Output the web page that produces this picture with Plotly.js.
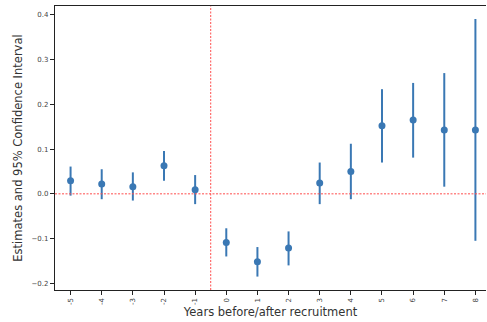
<!DOCTYPE html>
<html>
<head>
<meta charset="utf-8">
<script src="https://cdn.plot.ly/plotly-3.0.1.min.js"></script>
<style>html,body{margin:0;padding:0;background:#fff;}#chart{width:487px;height:322px;}</style>
</head>
<body>
<div id="chart"></div>
<script>
const years = [-5, -4, -3, -2, -1, 0, 1, 2, 3, 4, 5, 6, 7, 8];
const estimates = [0.029, 0.022, 0.016, 0.063, 0.009, -0.109, -0.152, -0.121, 0.024, 0.050, 0.152, 0.165, 0.143, 0.143];
const ciUpper = [0.061, 0.055, 0.048, 0.096, 0.042, -0.077, -0.119, -0.084, 0.070, 0.112, 0.234, 0.248, 0.270, 0.391];
const ciLower = [-0.004, -0.012, -0.015, 0.029, -0.023, -0.140, -0.185, -0.160, -0.023, -0.012, 0.070, 0.081, 0.016, -0.105];
const yTicks = [-0.2, -0.1, 0.0, 0.1, 0.2, 0.3, 0.4];

const color = '#3a78b4';
const errPlus = estimates.map((v, i) => ciUpper[i] - v);
const errMinus = estimates.map((v, i) => v - ciLower[i]);

const trace = {
  x: years, y: estimates, type: 'scatter', mode: 'markers',
  marker: {color: color, size: 7},
  error_y: {type: 'data', symmetric: false, array: errPlus, arrayminus: errMinus,
            color: color, thickness: 2, width: 0},
  hoverinfo: 'none', showlegend: false
};

const layout = {
  width: 487, height: 322,
  margin: {l: 55, r: 1, t: 6, b: 32},
  paper_bgcolor: '#fff', plot_bgcolor: '#fff',
  font: {family: 'DejaVu Sans', color: '#333'},
  xaxis: {
    range: [-5.5, 8.34], tickvals: years, ticktext: years.map(String),
    tickangle: -90, tickfont: {size: 7, color: '#444'},
    ticks: 'outside', ticklen: 4, tickcolor: '#222', tickwidth: 1,
    showline: true, linecolor: '#222', linewidth: 1.2, mirror: true,
    showgrid: false, zeroline: false,
    title: {text: 'Years before/after recruitment', font: {size: 11.5, color: '#333'}, standoff: 3}
  },
  yaxis: {
    range: [-0.215, 0.42], tickvals: yTicks, ticktext: yTicks.map(v => v.toFixed(1).replace('-', '\u2212')),
    tickfont: {size: 7, color: '#444'},
    ticks: 'outside', ticklen: 4, tickcolor: '#222', tickwidth: 1,
    showline: true, linecolor: '#222', linewidth: 1.2,
    showgrid: false, zeroline: false,
    title: {text: 'Estimates and 95% Confidence Interval', font: {size: 11.5, color: '#333'}, standoff: 6}
  },
  shapes: [
    {type: 'line', xref: 'paper', x0: 0, x1: 1, yref: 'y', y0: 0, y1: 0,
     line: {color: '#ff4d4d', width: 1, dash: '2px,1.5px'}},
    {type: 'line', xref: 'x', x0: -0.5, x1: -0.5, yref: 'paper', y0: 0, y1: 1,
     line: {color: '#ff4d4d', width: 1, dash: '2px,1.5px'}}
  ]
};

Plotly.newPlot('chart', [trace], layout, {displayModeBar: false, staticPlot: true});
</script>
</body>
</html>
